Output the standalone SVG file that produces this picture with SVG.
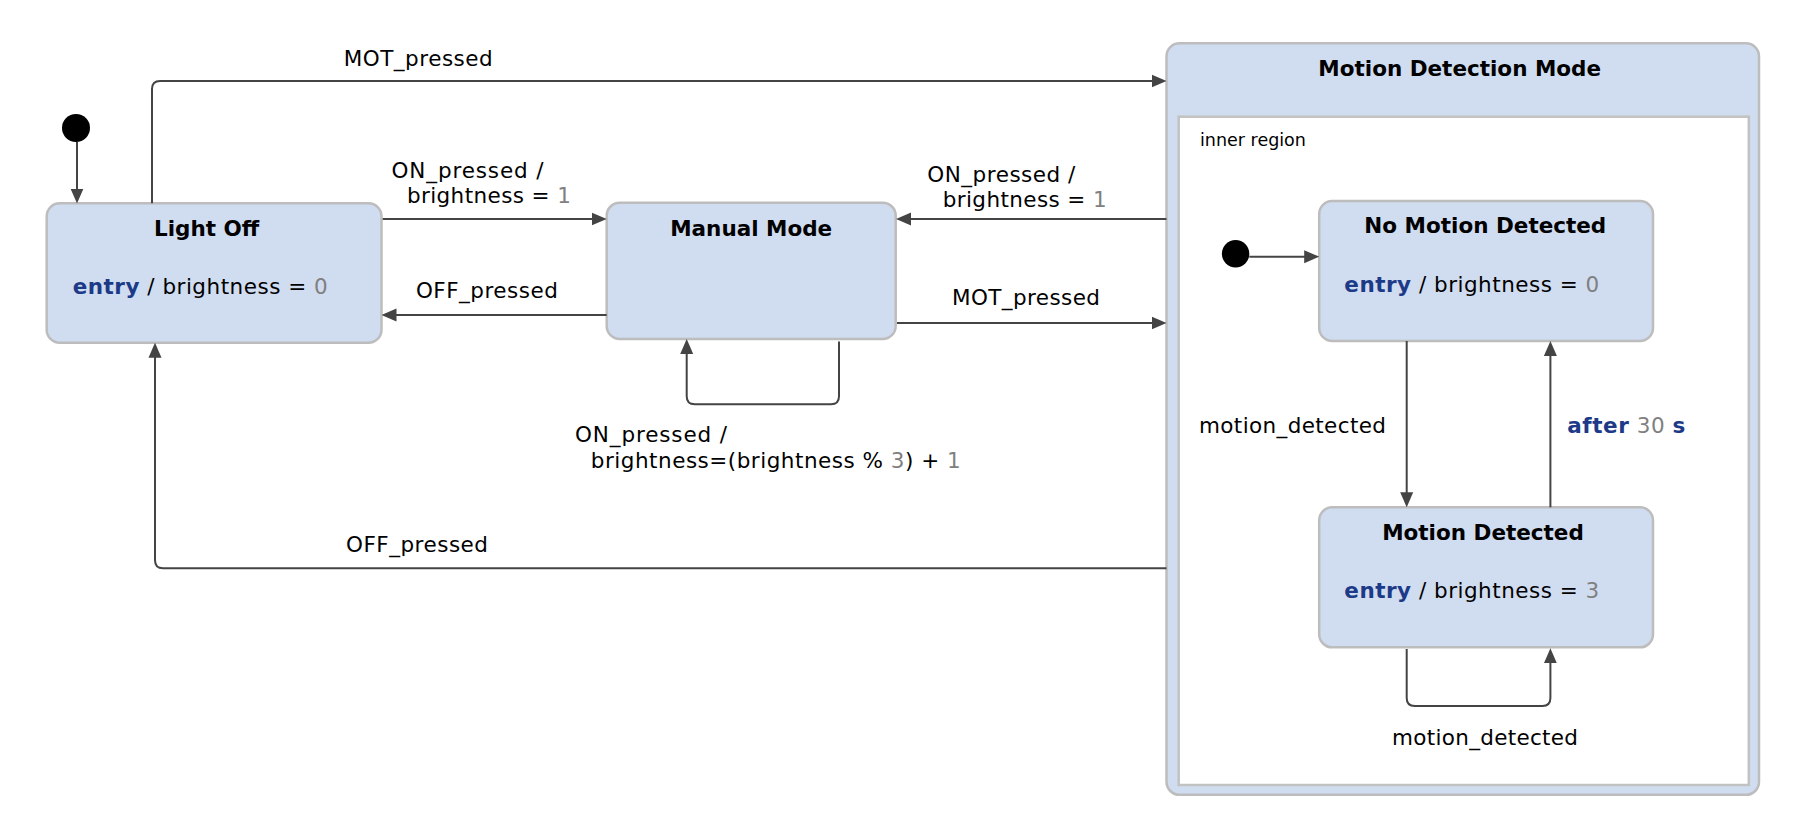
<svg xmlns="http://www.w3.org/2000/svg" width="1794" height="828" viewBox="0 0 1794 828">
<style>
.state{fill:#d0dcf0;stroke:#bdbdbd;stroke-width:2.5}
.region{fill:#ffffff;stroke:#c2c2c2;stroke-width:2.5}
.title{font-family:"DejaVu Sans",sans-serif;font-weight:bold;font-size:21.5px;fill:#000;text-anchor:middle}
.lbl{font-family:"DejaVu Sans",sans-serif;font-size:21.5px;fill:#000;text-anchor:middle}
.act{font-family:"DejaVu Sans",sans-serif;font-size:21.5px;fill:#000}
.kw{font-weight:bold;fill:#1c3a87}
.num{fill:#808080}
.small{font-family:"DejaVu Sans",sans-serif;font-size:17.5px;fill:#000}
.edge{fill:none;stroke:#444;stroke-width:2}
.dot{fill:#000}
</style>
<defs>
<marker id="arr" viewBox="0 0 15 14" refX="9" refY="7" markerWidth="15" markerHeight="14" orient="auto" markerUnits="userSpaceOnUse">
<path d="M0,0.5 L15,7 L0,13.5 Z" fill="#444"/>
</marker>
</defs>
<rect width="1794" height="828" fill="#ffffff"/>

<g id="initial-top"><circle class="dot" cx="76" cy="128" r="14"/></g>

<g id="light-off">
<rect class="state" x="46.7" y="203.3" width="334.8" height="139.4" rx="13"/>
<text class="title" x="206.6" y="236">Light Off</text>
<text class="act" x="72.7" y="294" textLength="255"><tspan class="kw">entry</tspan> / brightness = <tspan class="num">0</tspan></text>
</g>

<g id="manual-mode">
<rect class="state" x="606.7" y="202.7" width="289" height="136.3" rx="13"/>
<text class="title" x="751.2" y="236">Manual Mode</text>
</g>

<g id="motion-detection-mode">
<rect class="state" x="1166.5" y="43.3" width="592.5" height="751.5" rx="13"/>
<text class="title" x="1459.7" y="76">Motion Detection Mode</text>
<rect class="region" x="1178.7" y="116.7" width="570.1" height="668.3"/>
<text class="small" x="1200" y="145.7">inner region</text>
</g>

<g id="initial-inner"><circle class="dot" cx="1235.6" cy="253.7" r="13.7"/></g>

<g id="no-motion-detected">
<rect class="state" x="1319.2" y="201" width="333.8" height="140" rx="13"/>
<text class="title" x="1485.3" y="233.3">No Motion Detected</text>
<text class="act" x="1344.3" y="291.7" textLength="255"><tspan class="kw">entry</tspan> / brightness = <tspan class="num">0</tspan></text>
</g>

<g id="motion-detected">
<rect class="state" x="1319.2" y="507.3" width="333.8" height="140" rx="13"/>
<text class="title" x="1483" y="540">Motion Detected</text>
<text class="act" x="1344.3" y="598.3" textLength="255"><tspan class="kw">entry</tspan> / brightness = <tspan class="num">3</tspan></text>
</g>

<g id="connectors">
<path class="edge" marker-end="url(#arr)" d="M77,142 V197.5"/>
<path class="edge" marker-end="url(#arr)" d="M152,203.3 V89 Q152,81 160,81 H1160.5"/>
<path class="edge" marker-end="url(#arr)" d="M382.7,219 H600.7"/>
<path class="edge" marker-end="url(#arr)" d="M606.7,315 H387.5"/>
<path class="edge" marker-end="url(#arr)" d="M1166.5,219 H902"/>
<path class="edge" marker-end="url(#arr)" d="M897,323 H1160.5"/>
<path class="edge" marker-end="url(#arr)" d="M839,341.5 V396.3 Q839,404.3 831,404.3 H694.7 Q686.7,404.3 686.7,396.3 V345"/>
<path class="edge" marker-end="url(#arr)" d="M1166.5,568.3 H163 Q155,568.3 155,560.3 V348.7"/>
<path class="edge" marker-end="url(#arr)" d="M1249.3,256.7 H1313.2"/>
<path class="edge" marker-end="url(#arr)" d="M1406.7,341 V501.3"/>
<path class="edge" marker-end="url(#arr)" d="M1550.4,507.3 V347"/>
<path class="edge" marker-end="url(#arr)" d="M1406.7,649 V698 Q1406.7,706 1414.7,706 H1542.4 Q1550.4,706 1550.4,698 V654.3"/>

<text class="lbl" x="418.2" y="66" textLength="149">MOT_pressed</text>
<text class="lbl" x="467.5" y="178.3" textLength="152">ON_pressed /</text>
<text class="lbl" x="488.9" y="203.3" textLength="164">brightness = <tspan class="num">1</tspan></text>
<text class="lbl" x="486.9" y="297.7" textLength="142">OFF_pressed</text>
<text class="lbl" x="651" y="441.7" textLength="152">ON_pressed /</text>
<text class="lbl" x="775.8" y="467.7" textLength="370">brightness=(brightness % <tspan class="num">3</tspan>) + <tspan class="num">1</tspan></text>
<text class="lbl" x="1001.3" y="181.7" textLength="148">ON_pressed /</text>
<text class="lbl" x="1024.7" y="207.3" textLength="164">brightness = <tspan class="num">1</tspan></text>
<text class="lbl" x="1026" y="305" textLength="148">MOT_pressed</text>
<text class="lbl" x="417" y="551.7" textLength="142">OFF_pressed</text>
<text class="lbl" x="1292.5" y="433.3" textLength="187">motion_detected</text>
<text class="lbl" x="1626.3" y="433" textLength="118"><tspan class="kw">after</tspan> <tspan class="num">30</tspan> <tspan class="kw">s</tspan></text>
<text class="lbl" x="1485" y="745" textLength="186">motion_detected</text>
</g>
</svg>
